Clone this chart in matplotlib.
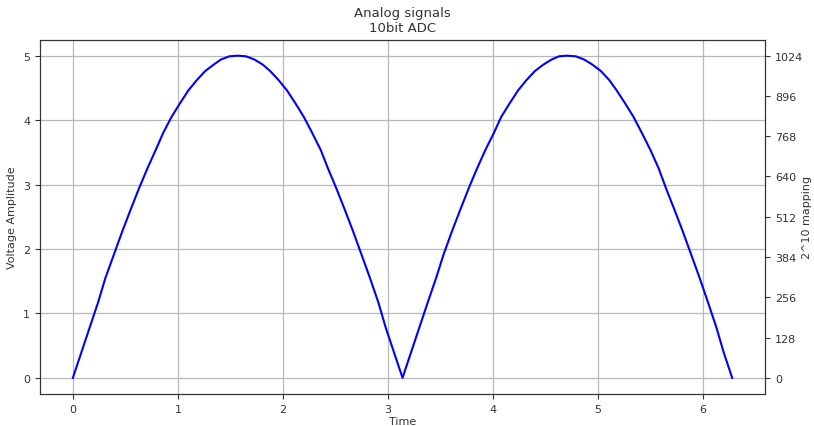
import matplotlib.pyplot as plt

# samples (time, volts)
time = [
    0.00, 0.08, 0.16, 0.24, 0.31, 0.39, 0.47, 0.55, 0.63, 0.71,
    0.79, 0.86, 0.94, 1.02, 1.10, 1.18, 1.26, 1.34, 1.41, 1.49,
    1.57, 1.65, 1.73, 1.81, 1.88, 1.96, 2.04, 2.12, 2.20, 2.28,
    2.36, 2.43, 2.51, 2.59, 2.67, 2.75, 2.83, 2.91, 2.98, 3.06,
    3.14, 3.22, 3.30, 3.38, 3.46, 3.53, 3.61, 3.69, 3.77, 3.85,
    3.93, 4.01, 4.08, 4.16, 4.24, 4.32, 4.40, 4.48, 4.56, 4.63,
    4.71, 4.79, 4.87, 4.95, 5.03, 5.11, 5.18, 5.26, 5.34, 5.42,
    5.50, 5.58, 5.65, 5.73, 5.81, 5.89, 5.97, 6.05, 6.13, 6.20,
    6.28,
]
voltage = [
    0.00, 0.39, 0.78, 1.17, 1.55, 1.91, 2.27, 2.61, 2.94, 3.25,
    3.54, 3.80, 4.05, 4.26, 4.46, 4.62, 4.76, 4.86, 4.94, 4.99,
    5.00, 4.99, 4.94, 4.86, 4.76, 4.62, 4.46, 4.26, 4.05, 3.80,
    3.54, 3.25, 2.94, 2.61, 2.27, 1.91, 1.55, 1.17, 0.78, 0.39,
    0.00, 0.39, 0.78, 1.17, 1.55, 1.91, 2.27, 2.61, 2.94, 3.25,
    3.54, 3.80, 4.05, 4.26, 4.46, 4.62, 4.76, 4.86, 4.94, 4.99,
    5.00, 4.99, 4.94, 4.86, 4.76, 4.62, 4.46, 4.26, 4.05, 3.80,
    3.54, 3.25, 2.94, 2.61, 2.27, 1.91, 1.55, 1.17, 0.78, 0.39,
    0.00,
]
adc_ticks = [0, 128, 256, 384, 512, 640, 768, 896, 1024]
v_max = 5.0
adc_max = 1024

text_color = "#333333"
plt.rcParams["font.size"] = 8
plt.rcParams["text.color"] = text_color
plt.rcParams["axes.labelcolor"] = text_color
plt.rcParams["xtick.color"] = text_color
plt.rcParams["ytick.color"] = text_color

fig, ax = plt.subplots(figsize=(8.14, 4.27), dpi=100)
fig.subplots_adjust(left=0.049, right=0.94, top=0.905, bottom=0.075)

ax.plot(time, voltage, color="blue", lw=1.5)
ax.set_xlabel("Time", labelpad=2)
ax.set_ylabel("Voltage Amplitude")
ax.set_title("Analog signals\n10bit ADC", fontsize=9.5)
ax.grid(True, color="#b8b8b8", lw=0.9)
ax.set_ylim(-0.25, 5.25)

ax2 = ax.twinx()
ax2.set_ylim(-0.25 * adc_max / v_max, 5.25 * adc_max / v_max)
ax2.set_yticks(adc_ticks)
ax2.set_ylabel("2^10 mapping")
ax2.yaxis.set_label_coords(1.051, 0.5)

for a in (ax, ax2):
    for s in a.spines.values():
        s.set_color("#333333")

fig.savefig("out.png", dpi=100)
